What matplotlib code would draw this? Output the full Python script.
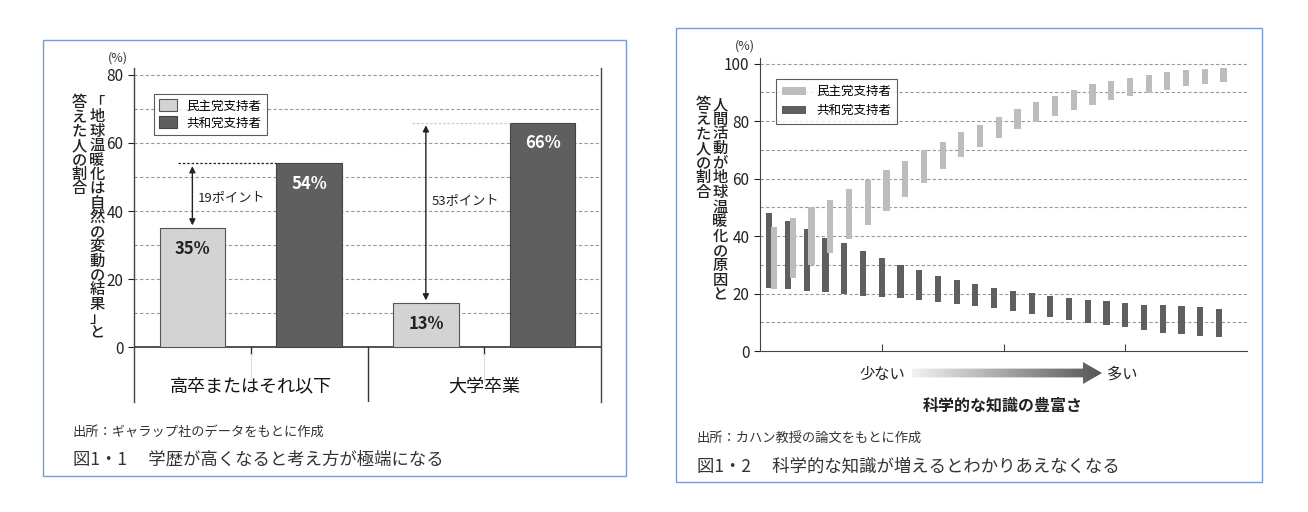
import matplotlib
matplotlib.use("Agg")
import matplotlib.pyplot as plt
import numpy as np
from matplotlib.patches import Rectangle, Polygon

plt.rcParams['font.family'] = ['Noto Sans CJK JP', 'DejaVu Sans']

# ---- data: left chart ----
groups = ['高卒またはそれ以下', '大学卒業']
dem_left = [35, 13]
rep_left = [54, 66]
gap_labels = ['19ポイント', '53ポイント']
series_names = ['民主党支持者', '共和党支持者']

# ---- data: right chart (ranges per knowledge level) ----
dem_top = [43.2, 46.2, 50.2, 52.7, 56.3, 59.5, 63.0, 66.2, 70.0, 72.9, 76.1, 78.7, 81.4,
           84.2, 86.8, 88.9, 90.9, 92.8, 93.9, 94.9, 96.1, 97.1, 97.8, 98.1, 98.4]
dem_bot = [21.7, 25.5, 29.9, 34.0, 38.9, 44.0, 48.8, 53.7, 58.6, 63.3, 67.4, 71.1, 74.2,
           77.4, 79.7, 81.9, 83.8, 85.6, 87.4, 88.7, 89.9, 91.0, 92.3, 93.0, 93.7]
rep_top = [47.9, 45.2, 42.3, 39.2, 37.5, 34.9, 32.3, 30.0, 28.2, 26.1, 24.7, 23.2, 21.8,
           20.8, 20.1, 19.0, 18.4, 17.7, 17.4, 16.6, 16.1, 15.9, 15.5, 15.2, 14.7]
rep_bot = [21.8, 21.5, 20.9, 20.4, 20.0, 19.3, 18.7, 18.3, 17.6, 17.1, 16.2, 15.8, 14.8,
           13.8, 13.0, 11.9, 10.9, 9.9, 8.9, 8.2, 7.3, 6.3, 5.8, 5.2, 4.8]

W, H = 1308, 512
fig = plt.figure(figsize=(W/100, H/100), dpi=100)

def rect(x0, y0, x1, y1):
    return [x0/W, 1-y1/H, (x1-x0)/W, (y1-y0)/H]

def fx(x): return x/W
def fy(y): return 1-y/H

LIGHT = '#d3d3d3'; DARK = '#5f5f5f'; GRID = '#9a9a9a'; BORDER = '#7d9bd0'

# panel borders
for (x0, y0, x1, y1) in [(43, 40, 626, 476), (676, 28, 1262, 482)]:
    fig.patches.append(Rectangle((fx(x0), fy(y1)), (x1-x0)/W, (y1-y0)/H, fill=False,
                                 edgecolor=BORDER, lw=1, transform=fig.transFigure))

# ---------- left chart ----------
ax = fig.add_axes(rect(134, 68, 601, 402))
ax.set_xlim(0, 4); ax.set_ylim(-16, 82)
for s in ['top', 'bottom']:
    ax.spines[s].set_visible(False)
for s in ['left', 'right']:
    ax.spines[s].set_color('#444'); ax.spines[s].set_linewidth(1)
ax.set_yticks([0, 20, 40, 60, 80])
ax.tick_params(axis='y', length=4, labelsize=11, colors='#222')
ax.set_xticks([])
for v in range(10, 81, 10):
    ax.axhline(v, color=GRID, ls=(0, (3, 2)), lw=0.8, zorder=0)
ax.axhline(0, color='#333', lw=1.2)
ax.plot([2, 2], [0, -16], color='#333', lw=1)
for xc in [1, 3]:
    ax.plot([xc, xc], [0, -2], color='#333', lw=1)
    ax.plot([xc, xc], [-2, -10], color='#ddd', lw=0.8)
centers_d = [0.5, 2.5]; centers_r = [1.5, 3.5]
bw = 0.56
ax.bar(centers_d, dem_left, bw, color=LIGHT, edgecolor='#555', lw=0.8, zorder=2, label=series_names[0])
ax.bar(centers_r, rep_left, bw, color=DARK, edgecolor='#444', lw=0.8, zorder=2, label=series_names[1])
for xc, v in zip(centers_d, dem_left):
    ax.text(xc, v-6, f'{v}%', ha='center', va='center', fontsize=12, fontweight='bold', color='#222', zorder=3)
for xc, v in zip(centers_r, rep_left):
    ax.text(xc, v-6, f'{v}%', ha='center', va='center', fontsize=12, fontweight='bold', color='white', zorder=3)
for i, (xc, d, r, lab) in enumerate(zip(centers_d, dem_left, rep_left, gap_labels)):
    ax.plot([xc-0.12, centers_r[i]-bw/2], [r, r], color='#222' if i == 0 else '#ccc',
            ls=(0, (2, 1.5)), lw=0.9, zorder=3)
    ax.annotate('', xy=(xc, r), xytext=(xc, d), arrowprops=dict(arrowstyle='<|-|>', color='#222',
                lw=1, mutation_scale=9), zorder=4)
    ax.text(xc+0.05, [44, 43][i], lab, fontsize=9.5, color='#222', va='center')
for xc, g in zip([1, 3], groups):
    ax.text(xc, -11.5, g, ha='center', va='center', fontsize=13, color='#111')
ax.text(-0.05, 85, '(%)', ha='right', va='center', fontsize=9, color='#333')
leg = ax.legend(loc='upper left', bbox_to_anchor=(0.03, 0.94), fontsize=9, frameon=True,
                fancybox=False, edgecolor='#333', handlelength=1.4, handleheight=1.1, borderpad=0.4,
                labelspacing=0.3)
leg.get_frame().set_linewidth(0.8)

def vtext(x, y, s, size=11, ls=0.82):
    fig.text(fx(x), fy(y), '\n'.join(s), ha='center', va='top', fontsize=size,
             linespacing=ls, color='#222', fontweight='medium')

vtext(97, 94, '「地球温暖化は自然の変動の結果」と', size=11, ls=0.8)
vtext(79, 94, '答えた人の割合', size=11, ls=0.8)
fig.text(fx(73), fy(432), '出所：ギャラップ社のデータをもとに作成', fontsize=9.5, va='center', color='#333')
fig.text(fx(73), fy(460), '図1・1　 学歴が高くなると考え方が極端になる', fontsize=12.5, va='center', color='#333')

# ---------- right chart ----------
ax2 = fig.add_axes(rect(760, 58, 1247, 351))
ax2.set_xlim(0, 26); ax2.set_ylim(0, 102)
for s in ['top', 'right']:
    ax2.spines[s].set_visible(False)
ax2.spines['left'].set_color('#444'); ax2.spines['bottom'].set_color('#444')
ax2.axvline(26, color='#ccc', lw=0.8)
ax2.set_yticks([0, 20, 40, 60, 80, 100])
ax2.tick_params(axis='y', length=4, labelsize=11, colors='#222')
ax2.set_xticks([6.5, 13, 19.5]); ax2.set_xticklabels([])
ax2.tick_params(axis='x', length=5, direction='in', colors='#444')
for v in range(10, 101, 10):
    ax2.axhline(v, color=GRID, ls=(0, (3, 2)), lw=0.8, zorder=0)
n = len(rep_top)
xs = np.arange(n)
ax2.bar(xs+0.5, np.array(rep_top)-np.array(rep_bot), 0.33, bottom=rep_bot, color=DARK, zorder=2,
        label=series_names[1])
ax2.bar(xs+0.75, np.array(dem_top)-np.array(dem_bot), 0.33, bottom=dem_bot, color='#bdbdbd', zorder=2,
        label=series_names[0])
h, l = ax2.get_legend_handles_labels()
leg2 = ax2.legend(h[::-1], l[::-1], loc='upper left', bbox_to_anchor=(0.02, 0.95), fontsize=9,
                  fancybox=False, edgecolor='#333', handlelength=1.9, handleheight=0.6,
                  borderpad=0.5, labelspacing=0.5)
leg2.get_frame().set_linewidth(0.8)
ax2.text(-0.3, 106, '(%)', ha='right', va='center', fontsize=9, color='#333')
vtext(720, 96, '人間活動が地球温暖化の原因と', size=11, ls=0.82)
vtext(703, 96, '答えた人の割合', size=11, ls=0.82)

# gradient arrow
axa = fig.add_axes(rect(912, 362, 1102, 384))
axa.set_xlim(0, 1); axa.set_ylim(0, 1); axa.axis('off')
grad = np.linspace(0, 1, 256)[None, :]
im = axa.imshow(grad, extent=[0, 1, 0, 1], aspect='auto', cmap=matplotlib.colors.LinearSegmentedColormap.from_list('g', ['#f2f2f2', '#555555']))
poly = Polygon([[0, 0.3], [0.9, 0.3], [0.9, 0.0], [1, 0.5], [0.9, 1.0], [0.9, 0.7], [0, 0.7]],
               closed=True, transform=axa.transData, facecolor='none', edgecolor='none')
axa.add_patch(poly); im.set_clip_path(poly)
fig.text(fx(882), fy(374), '少ない', ha='center', va='center', fontsize=11, color='#222')
fig.text(fx(1122), fy(374), '多い', ha='center', va='center', fontsize=11, color='#222')
fig.text(fx(1003), fy(406), '科学的な知識の豊富さ', ha='center', va='center', fontsize=11.5,
         fontweight='bold', color='#222')
fig.text(fx(697), fy(438), '出所：カハン教授の論文をもとに作成', fontsize=9.5, va='center', color='#333')
fig.text(fx(697), fy(467), '図1・2　 科学的な知識が増えるとわかりあえなくなる', fontsize=12.5, va='center', color='#333')

fig.savefig('out.png', dpi=100)
